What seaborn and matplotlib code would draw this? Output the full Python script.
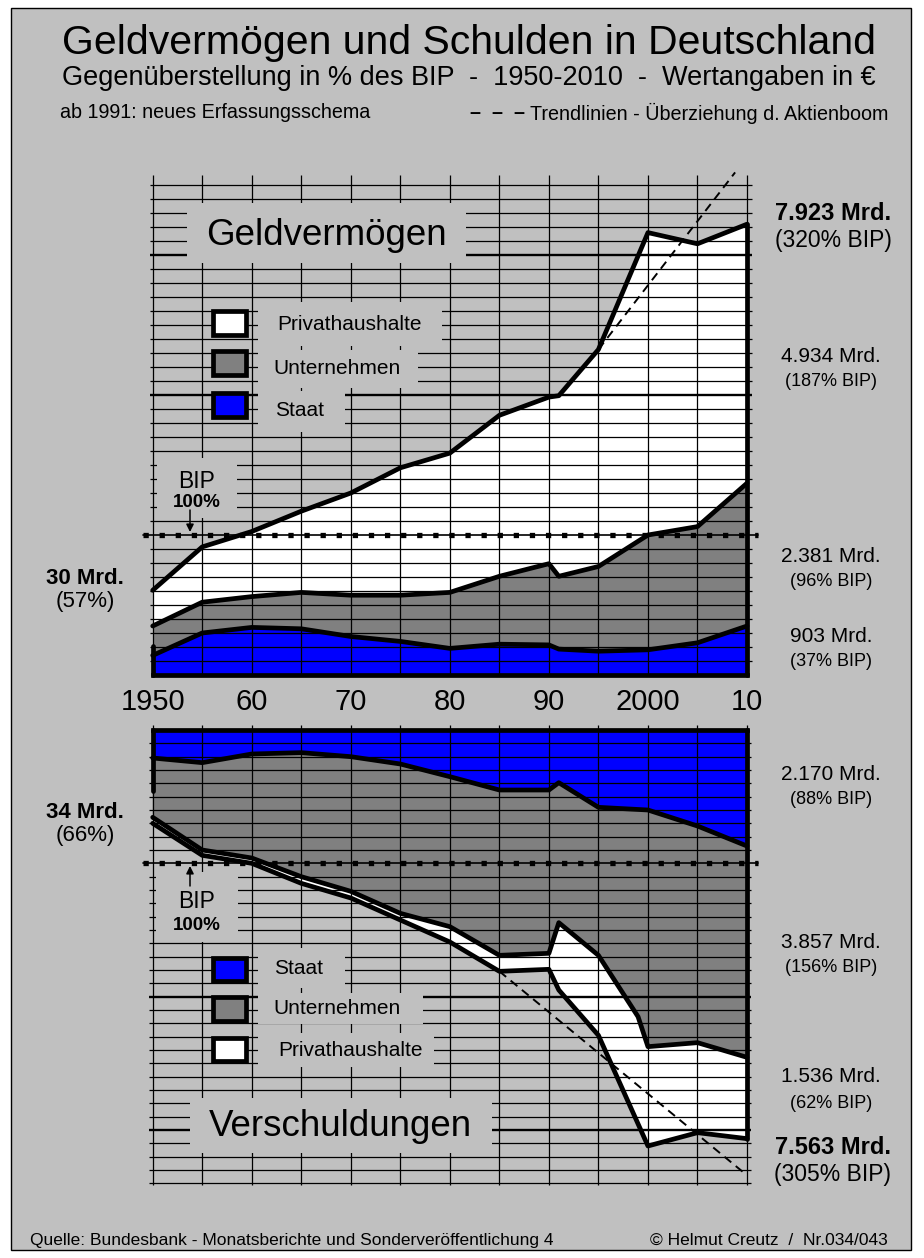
import numpy as np
import pandas as pd
import seaborn as sns
import matplotlib.pyplot as plt
from matplotlib.patches import Rectangle, FancyArrowPatch

# --- Daten: Geldvermoegen (oben), Oberkanten der gestapelten Flaechen in % des BIP
jahre_gv = [1950, 1955, 1960, 1965, 1970, 1975, 1980, 1985, 1990, 1991, 1995, 2000, 2005, 2010]
gv_staat = [14, 30, 34, 33, 27.5, 24, 19, 22, 21.5, 18.5, 17, 18, 23, 35]
gv_unternehmen = [35, 52, 56, 59, 57, 57, 59, 70.5, 79.5, 70.5, 77.5, 100, 106, 137]
gv_privat = [60.5, 91.5, 102.5, 117, 130, 148, 158.5, 185.5, 198.5, 199.5, 232.5, 316, 308, 322]
gv_trend_jahre = [1995, 2008.8]
gv_trend = [232.5, 359]

# --- Daten: Verschuldungen (unten), Unterkanten in % des BIP (nach unten)
jahre_vs = [1950, 1955, 1960, 1965, 1970, 1975, 1980, 1985, 1990, 1991, 1995, 2000, 2005, 2010]
vs_staat = [21, 24.5, 18, 17, 20, 25.5, 35, 45, 45, 39.5, 58, 60, 72, 87]
jahre_vs_unt = [1950, 1955, 1960, 1965, 1970, 1975, 1980, 1985, 1990, 1991, 1995, 1999, 2000, 2005, 2010]
vs_unternehmen = [65.5, 90, 96, 110, 121, 137.5, 147.5, 169, 167.5, 144.5, 169, 215, 237.5, 234.5, 245.5]
vs_privat = [70, 94, 100, 115, 126, 142.5, 159, 181, 179.5, 195, 229, 312, 302, 306.5]
vs_trend_jahre = [1985, 2010]
vs_trend = [181, 334]

jahr_ticks = [1950, 1960, 1970, 1980, 1990, 2000, 2010]
jahr_labels = ['1950', '60', '70', '80', '90', '2000', '10']

BG = '#c0c0c0'
BLAU = '#0000ff'
GRAU = '#808080'

sns.set_theme(style='white')
plt.rcParams['font.family'] = ['Liberation Sans', 'DejaVu Sans']

W, H = 924, 1258
fig = plt.figure(figsize=(W / 100, H / 100), dpi=100, facecolor='white')


def fx(x):
    return x / W


def fy(y):
    return 1 - y / H


def rect(x0, y0, x1, y1, fc=BG, ec='none', lw=0, z=2):
    fig.add_artist(Rectangle((fx(x0), fy(y1)), (x1 - x0) / W, (y1 - y0) / H,
                             transform=fig.transFigure, facecolor=fc,
                             edgecolor=ec, linewidth=lw, zorder=z))


def txt(x, y, s, size, weight='normal', ha='center'):
    fig.text(fx(x), fy(y), s, fontsize=size, fontweight=weight, ha=ha,
             va='center', color='black', zorder=6)


def pfeil(x, y0, y1):
    fig.add_artist(FancyArrowPatch((fx(x), fy(y0)), (fx(x), fy(y1)),
                                   transform=fig.transFigure, arrowstyle='-|>',
                                   mutation_scale=11, color='black', lw=1.1,
                                   shrinkA=0, shrinkB=0, zorder=5))


# grauer Hintergrund mit Rahmen
rect(11, 8, 911, 1250, fc=BG, ec='black', lw=1, z=-5)

# Achsen: x-Pixel 130..770 ; 1950 -> 152.7 px, 9.905 px/Jahr
xl = (1950 - 22.7 / 9.905, 2010 + 23 / 9.905)
ax1 = fig.add_axes([fx(130), fy(690), 640 / W, 525 / H])
ax1.set_xlim(*xl)
ax1.set_ylim(-15 / 1.4, 510 / 1.4)
ax2 = fig.add_axes([fx(130), fy(1195), 640 / W, 483 / H])
ax2.set_xlim(*xl)
ax2.set_ylim(465 / 1.3333, -18 / 1.3333)
for ax in (ax1, ax2):
    ax.set_axis_off()
    ax.patch.set_alpha(0)

# ---------- obere Grafik ----------
ax1.fill_between(jahre_gv, 0, gv_staat, color=BLAU, lw=0, zorder=1)
ax1.fill_between(jahre_gv, gv_staat, gv_unternehmen, color=GRAU, lw=0, zorder=1)
ax1.fill_between(jahre_gv, gv_unternehmen, gv_privat, color='white', lw=0, zorder=1)

lv = [v for v in range(10, 351, 10) if v != 100]
ax1.hlines([v for v in lv if v not in (200, 300)], 1949.7, 2010.5, color='black', lw=0.9, zorder=2)
ax1.hlines([200, 300], 1949.7, 2010.5, color='black', lw=1.7, zorder=2)
ax1.vlines(range(1950, 2011, 5), 0, 357, color='black', lw=0.9, zorder=2)

df_gv = pd.DataFrame({
    'Jahr': jahre_gv * 3,
    'Wert': gv_staat + gv_unternehmen + gv_privat,
    'Sektor': ['Staat'] * 14 + ['Unternehmen'] * 14 + ['Privat'] * 14,
})
sns.lineplot(data=df_gv, x='Jahr', y='Wert', units='Sektor', estimator=None,
             color='black', lw=3.4, ax=ax1, legend=False, zorder=4)
ax1.plot([1950, 2010], [0, 0], color='black', lw=3.4, zorder=4, solid_capstyle='projecting')
ax1.plot([1950, 1950], [0, gv_staat[0] + 7], color='black', lw=3.4, zorder=4)
ax1.plot([2010, 2010], [0, gv_privat[-1]], color='black', lw=3.4, zorder=4)
ax1.plot(gv_trend_jahre, gv_trend, color='black', lw=1.4, ls=(0, (4.5, 3)), zorder=4)
ax1.plot([1949.0, 2011.1], [100, 100], color='black', lw=1.2, zorder=4)
ax1.plot([1949.0, 2011.1], [100, 100], color='black', lw=3.8,
         ls=(0, (1, 2.05)), dash_capstyle='butt', zorder=4)

# ---------- untere Grafik ----------
ax2.fill_between(jahre_vs, 0, vs_staat, color=BLAU, lw=0, zorder=1)
ax2.fill(np.r_[jahre_vs, jahre_vs_unt[::-1]], np.r_[vs_staat, vs_unternehmen[::-1]],
         color=GRAU, lw=0, zorder=1)
ax2.fill(np.r_[jahre_vs_unt, jahre_vs[::-1]], np.r_[vs_unternehmen, vs_privat[::-1]],
         color='white', lw=0, zorder=1)

lv2 = [v for v in range(10, 341, 10) if v != 100]
ax2.hlines([v for v in lv2 if v not in (200, 300)], 1949.6, 2010.4, color='black', lw=0.9, zorder=2)
ax2.hlines([200, 300], 1949.6, 2010.4, color='black', lw=1.7, zorder=2)
ax2.vlines(range(1950, 2011, 5), -4, 341, color='black', lw=0.9, zorder=2)

df_vs = pd.DataFrame({
    'Jahr': jahre_vs + jahre_vs_unt + jahre_vs,
    'Wert': vs_staat + vs_unternehmen + vs_privat,
    'Sektor': ['Staat'] * 14 + ['Unternehmen'] * 15 + ['Privat'] * 14,
})
sns.lineplot(data=df_vs, x='Jahr', y='Wert', units='Sektor', estimator=None,
             color='black', lw=3.4, ax=ax2, legend=False, zorder=4)
ax2.plot([1950, 2010], [0, 0], color='black', lw=3.4, zorder=4, solid_capstyle='projecting')
ax2.plot([1950, 1950], [0, 46], color='black', lw=3.4, zorder=4)
ax2.plot([2010, 2010], [0, vs_privat[-1]], color='black', lw=3.4, zorder=4)
ax2.plot(vs_trend_jahre, vs_trend, color='black', lw=1.4, ls=(0, (4.5, 3)), zorder=4)
ax2.plot([1949.0, 2011.1], [100, 100], color='black', lw=1.2, zorder=4)
ax2.plot([1949.0, 2011.1], [100, 100], color='black', lw=3.8,
         ls=(0, (1, 2.05)), dash_capstyle='butt', zorder=4)

# ---------- Masken hinter Beschriftungen ----------
rect(187, 203, 466, 263)          # Geldvermoegen
rect(258, 302, 442, 346)          # Privathaushalte
rect(258, 350, 418, 388)          # Unternehmen
rect(258, 391, 345, 432)          # Staat
rect(157, 458, 237, 518)          # BIP oben
rect(156, 872, 238, 942)          # BIP unten
rect(258, 948, 345, 988)          # Staat unten
rect(258, 993, 423, 1024)         # Unternehmen unten
rect(258, 1033, 434, 1067)        # Privathaushalte unten
rect(190, 1098, 492, 1153)        # Verschuldungen

# Legendenkaestchen
for (y0, y1, c) in [(311, 335, 'white'), (351, 375, GRAU), (393, 417, BLAU),
                    (958, 981, BLAU), (997, 1021, GRAU), (1038, 1061, 'white')]:
    rect(213, y0, 246, y1, fc=c, ec='black', lw=3.4, z=3)

pfeil(190, 510, 532)
pfeil(190, 886, 866)

# ---------- Texte ----------
txt(469, 43, 'Geldvermögen und Schulden in Deutschland', 29.5)
txt(469, 78, 'Gegenüberstellung in % des BIP  -  1950-2010  -  Wertangaben in €', 19.5)
txt(60, 113, 'ab 1991: neues Erfassungsschema', 14.2, ha='left')
txt(470, 113, '–  –  –', 14.2, weight='bold', ha='left')
txt(530, 113, 'Trendlinien - Überziehung d. Aktienboom', 14.2, ha='left')

txt(326, 236, 'Geldvermögen', 26.5)
txt(277, 324, 'Privathaushalte', 15, ha='left')
txt(273, 369, 'Unternehmen', 15, ha='left')
txt(275, 410, 'Staat', 15, ha='left')
txt(197, 481, 'BIP', 16.5)
txt(197, 502, '100%', 13.5, weight='bold')

txt(85, 578, '30 Mrd.', 16, weight='bold')
txt(85, 602, '(57%)', 16)

txt(833, 214, '7.923 Mrd.', 17, weight='bold')
txt(833, 241, '(320% BIP)', 16.5)
txt(831, 357, '4.934 Mrd.', 15)
txt(831, 382, '(187% BIP)', 13)
txt(831, 557, '2.381 Mrd.', 15)
txt(831, 582, '(96% BIP)', 13)
txt(831, 636, '903 Mrd.', 15)
txt(831, 661, '(37% BIP)', 13)

for j, lab in zip(jahr_ticks, jahr_labels):
    txt(152.7 + (j - 1950) * 9.905, 702, lab, 21)

txt(85, 812, '34 Mrd.', 16, weight='bold')
txt(85, 836, '(66%)', 16)
txt(197, 902, 'BIP', 16.5)
txt(197, 926, '100%', 13.5, weight='bold')
txt(274, 968, 'Staat', 15, ha='left')
txt(273, 1008, 'Unternehmen', 15, ha='left')
txt(278, 1050, 'Privathaushalte', 15, ha='left')
txt(340, 1126, 'Verschuldungen', 26.5)

txt(831, 775, '2.170 Mrd.', 15)
txt(831, 800, '(88% BIP)', 13)
txt(831, 942, '3.857 Mrd.', 15)
txt(831, 968, '(156% BIP)', 13)
txt(831, 1077, '1.536 Mrd.', 15)
txt(831, 1103, '(62% BIP)', 13)
txt(833, 1148, '7.563 Mrd.', 17, weight='bold')
txt(833, 1175, '(305% BIP)', 16.5)

txt(30, 1240, 'Quelle: Bundesbank - Monatsberichte und Sonderveröffentlichung 4', 12.5, ha='left')
txt(888, 1240, '© Helmut Creutz  /  Nr.034/043', 12.5, ha='right')

fig.savefig('out.png', dpi=100, facecolor='white')
